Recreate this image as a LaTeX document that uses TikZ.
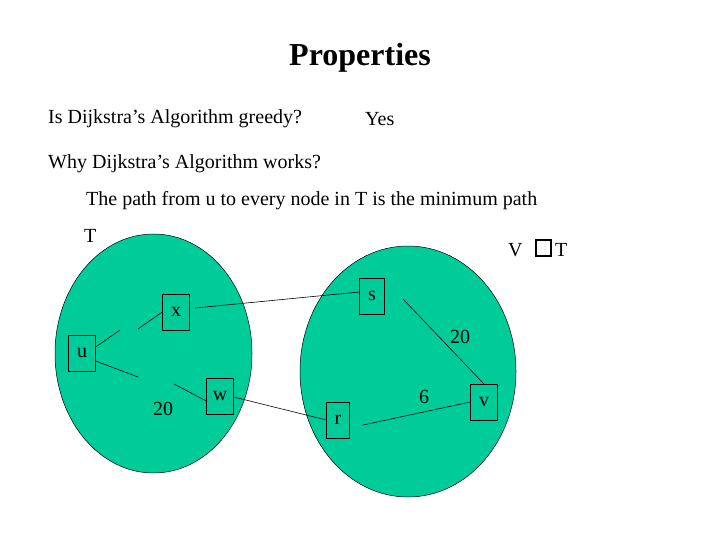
\documentclass[tikz,border=0pt]{standalone}
\usepackage{fontspec}
\setmainfont{Liberation Serif}
\definecolor{eg}{RGB}{0,204,153}
\begin{document}
\begin{tikzpicture}[x=1pt,y=-1pt,
  txt/.style={inner sep=0pt,anchor=base west,font=\fontsize{20}{24}\selectfont},
  vbox/.style={draw,line width=0.4pt,fill=eg,minimum width=27pt,minimum height=36pt,inner sep=0pt,font=\fontsize{20}{24}\selectfont},
  lab/.style={inner sep=0pt,font=\fontsize{20}{24}\selectfont},
  edge/.style={line width=0.6pt}]
\useasboundingbox (0,0) rectangle (720,540);
\node[font=\bfseries\fontsize{32}{36}\selectfont] (title) at (360,58) {Properties};
\node[txt] (l1) at (48,124) {Is Dijkstra’s Algorithm greedy?};
\node[txt] (yes) at (365,126) {Yes};
\node[txt] (l2) at (48,169) {Why Dijkstra’s Algorithm works?};
\node[txt] (l3) at (86,206) {The path from u to every node in T is the minimum path};
\node[txt] (tl) at (84,243) {T};
\node[txt] (vl) at (508,256) {V};
\draw[line width=1.2pt] (536,240) rectangle (551,256);
\node[txt] (tr) at (555,256) {T};
\fill[eg,draw=black,line width=0.5pt] (153.5,353.5) ellipse [x radius=98.5,y radius=119.5];
\fill[eg,draw=black,line width=0.5pt] (408,371.5) ellipse [x radius=108,y radius=125.5];
\node[vbox] (u) at (82,353) {u};
\node[vbox] (x) at (176,312) {x};
\node[vbox] (w) at (220,396) {w};
\node[vbox,minimum width=25pt] (s) at (372,296) {s};
\node[vbox,minimum width=23pt] (r) at (338,420) {r};
\node[vbox] (v) at (484,402) {v};
\coordinate (ux1) at (120,330); \coordinate (ux2) at (138,329);
\coordinate (uw1) at (138,377); \coordinate (uw2) at (174,384);
\draw[edge] (u.east|-97,347) -- (ux1);
\draw[edge] (ux2) -- (x.west|-162,312);
\draw[edge] (u.east|-97,361) -- (uw1);
\draw[edge] (uw2) -- (w.west|-204,401);
\coordinate (xs1) at (195,308); \coordinate (sv1) at (403,299); \coordinate (rv1) at (363,425);
\draw[edge] (xs1) -- (s.west|-360,292);
\draw[edge] (sv1) -- (v.north|-482,384);
\draw[edge] (w.east|-236,397) -- (r.west|-327,420);
\draw[edge] (rv1) -- (v.west|-471,402);
\node[lab] (w1) at (163,409) {20};
\node[lab] (w2) at (460,337) {20};
\node[lab] (w3) at (424,397) {6};
\end{tikzpicture}
\end{document}
